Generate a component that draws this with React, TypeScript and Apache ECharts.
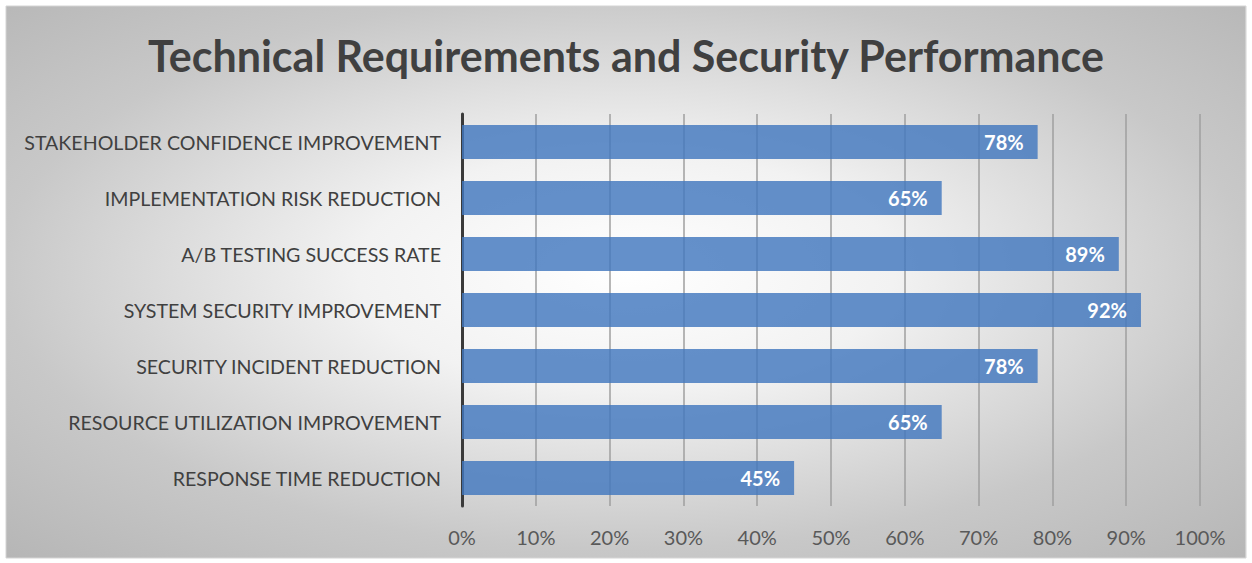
import React, { useEffect, useRef } from "react";
import * as echarts from "echarts";

const categories = [
  "STAKEHOLDER CONFIDENCE IMPROVEMENT",
  "IMPLEMENTATION RISK REDUCTION",
  "A/B TESTING SUCCESS RATE",
  "SYSTEM SECURITY IMPROVEMENT",
  "SECURITY INCIDENT REDUCTION",
  "RESOURCE UTILIZATION IMPROVEMENT",
  "RESPONSE TIME REDUCTION",
];
const values = [78, 65, 89, 92, 78, 65, 45];
const titleText = "Technical Requirements and Security Performance";

export default function App() {
  const ref = useRef<HTMLDivElement>(null);
  useEffect(() => {
    if (!ref.current) return;
    const chart = echarts.init(ref.current, null, { renderer: "svg" });
    const font = "Lato, 'Open Sans', sans-serif";
    chart.setOption({
      animation: false,
      graphic: [
        {
          type: "rect",
          z: -10,
          silent: true,
          x: 6,
          y: 6,
          scaleX: 1240 / 552,
          scaleY: 1,
          shape: { x: 0, y: 0, width: 552, height: 552 },
          style: {
            fill: {
              type: "radial",
              x: 0.5,
              y: 0.48,
              r: 0.72,
              colorStops: [
                { offset: 0, color: "#ffffff" },
                { offset: 0.3, color: "#f2f2f2" },
                { offset: 0.7, color: "#c8c8c8" },
                { offset: 1, color: "#b6b6b6" },
              ],
            },
            lineWidth: 0,
          },
        },
        {
          type: "rect",
          z: -9,
          silent: true,
          shape: { x: 6, y: 6, width: 1240, height: 552 },
          style: { fill: "transparent", stroke: "#d4d4d4", lineWidth: 1 },
        },
      ],
      title: {
        text: titleText,
        left: "center",
        top: 29,
        textStyle: {
          fontFamily: font,
          fontWeight: "bold",
          fontSize: 43,
          color: "#404040",
        },
      },
      grid: { left: 462, right: 52, top: 114, bottom: 57, containLabel: false },
      xAxis: {
        type: "value",
        min: 0,
        max: 100,
        interval: 10,
        axisLine: { show: false },
        axisTick: { show: false },
        splitLine: { lineStyle: { color: "#9f9f9f", width: 1.5 } },
        axisLabel: {
          formatter: "{value}%",
          fontFamily: font,
          fontSize: 20,
          color: "#595959",
          margin: 21,
        },
      },
      yAxis: {
        type: "category",
        inverse: true,
        data: categories,
        axisLine: { show: true, lineStyle: { color: "#3a3a3a", width: 3 } },
        axisTick: { show: false },
        axisLabel: {
          fontFamily: font,
          fontSize: 19.6,
          color: "#404040",
          margin: 21,
        },
      },
      series: [
        {
          type: "bar",
          data: values,
          barWidth: "61%",
          itemStyle: { color: "rgba(66,120,190,0.82)" },
          label: {
            show: true,
            position: "insideRight",
            distance: 14,
            formatter: "{c}%",
            fontFamily: font,
            fontWeight: "bold",
            fontSize: 20,
            color: "#ffffff",
          },
        },
      ],
    });
    return () => chart.dispose();
  }, []);
  return (
    <div
      ref={ref}
      style={{ position: "fixed", left: 0, top: 0, width: 1252, height: 563, background: "#ffffff" }}
    />
  );
}
